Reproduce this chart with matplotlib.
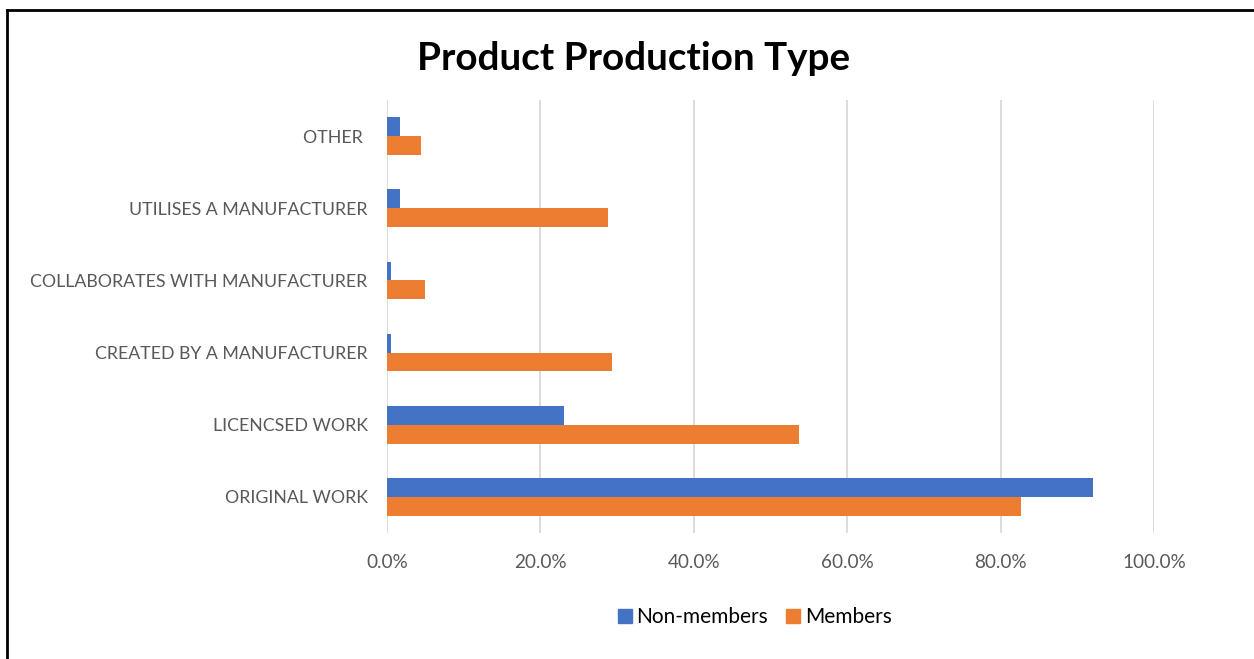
import matplotlib
matplotlib.use("Agg")
import matplotlib.pyplot as plt
from matplotlib.lines import Line2D
from matplotlib.ticker import PercentFormatter

plt.rcParams['font.family'] = ['Lato', 'DejaVu Sans']

categories = ["ORIGINAL WORK", "LICENCSED WORK", "CREATED BY A MANUFACTURER",
              "COLLABORATES WITH MANUFACTURER", "UTILISES A MANUFACTURER", "OTHER "]
non_members = [92.0, 23.1, 0.5, 0.5, 1.7, 1.7]
members = [82.7, 53.7, 29.3, 4.9, 28.8, 4.4]
series_names = ["Non-members", "Members"]
x_ticks = [0, 20, 40, 60, 80, 100]

BLUE = "#4472C4"
ORANGE = "#ED7D31"
GRID = "#D9D9D9"
LABEL = "#595959"

fig = plt.figure(figsize=(12.54, 6.59), dpi=100)
ax = fig.add_axes([0.3086, 0.1912, 0.6117, 0.6571])

pos = list(range(len(categories)))
h = 0.26
ax.barh([p + h / 2 for p in pos], non_members, height=h, color=BLUE, label=series_names[0], zorder=3)
ax.barh([p - h / 2 for p in pos], members, height=h, color=ORANGE, label=series_names[1], zorder=3)

ax.set_xlim(0, 100)
ax.set_ylim(-0.5, len(categories) - 0.5)
ax.set_xticks(x_ticks)
ax.xaxis.set_major_formatter(PercentFormatter(decimals=1))
ax.set_yticks(pos)
ax.set_yticklabels(categories)
ax.grid(axis='x', color=GRID, linewidth=1.3, zorder=0)
for s in ax.spines.values():
    s.set_visible(False)
ax.tick_params(axis='both', length=0, labelcolor=LABEL)
ax.tick_params(axis='y', pad=14, labelsize=12.8)
ax.tick_params(axis='x', pad=15, labelsize=13.6)

fig.text(0.505, 0.911, "Product Production Type", ha='center', va='center',
         fontsize=27.8, fontweight='bold', color='black')

handles = [Line2D([], [], marker='s', linestyle='none', markersize=10, color=c)
           for c in (BLUE, ORANGE)]
fig.legend(handles, series_names, loc='center', bbox_to_anchor=(0.6005, 0.064), ncol=2,
           frameon=False, fontsize=15, handletextpad=0.05, columnspacing=0.7,
           handlelength=1.0)

# frame lines along the top and left edges of the figure
fig.add_artist(Line2D([0.0058, 1.0], [0.985, 0.985], transform=fig.transFigure, color='black', linewidth=2))
fig.add_artist(Line2D([0.0058, 0.0058], [0.0, 0.985], transform=fig.transFigure, color='black', linewidth=2))

fig.savefig("out.png", dpi=100, facecolor='white')
